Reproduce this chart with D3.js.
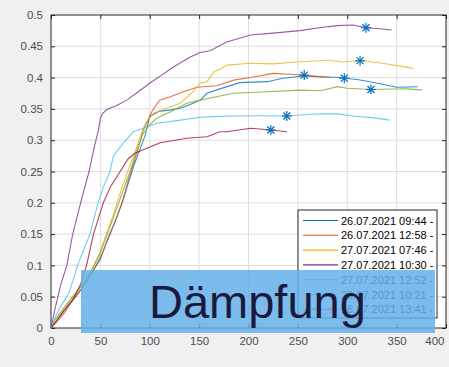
<!DOCTYPE html>
<html>
<head>
<meta charset="utf-8">
<script src="https://cdn.jsdelivr.net/npm/d3@7"></script>
<style>
  body { margin: 0; background: #f0f0f0; }
  svg { display: block; font-family: "Liberation Sans", Arial, sans-serif; }
</style>
</head>
<body>
<div id="chart"></div>
<script>
// legend labels
const labels = [
  "26.07.2021 09:44 -",
  "26.07.2021 12:58 -",
  "27.07.2021 07:46 -",
  "27.07.2021 10:30 -",
  "27.07.2021 12:52 -",
  "28.07.2021 10:21 -",
  "28.07.2021 13:41 -"
];
const colors = ["#0072BD", "#D95319", "#EDB120", "#7E2F8E", "#77AC30", "#4DBEEE", "#A2142F"];

// series values
const blueX = [0, 5, 12, 20, 30, 42, 50, 58, 65, 72, 78, 84, 90, 95, 100, 109, 120, 131, 144, 151, 158, 171, 191, 219, 235, 256, 275, 290, 297, 310, 323, 337, 350, 362, 371];
const blueY = [0, 0.01, 0.025, 0.04, 0.06, 0.09, 0.11, 0.145, 0.17, 0.2, 0.23, 0.26, 0.285, 0.306, 0.338, 0.346, 0.348, 0.351, 0.359, 0.364, 0.375, 0.382, 0.392, 0.3935, 0.399, 0.4026, 0.401, 0.4005, 0.399, 0.397, 0.3935, 0.389, 0.3845, 0.385, 0.3855];

const redX = [0, 6, 14, 22, 32, 44, 52, 60, 66, 72, 78, 84, 89, 93.5, 102, 110, 121, 134, 148, 168, 185, 205, 225, 245, 256, 270, 283];
const redY = [0, 0.01, 0.025, 0.045, 0.065, 0.095, 0.12, 0.15, 0.175, 0.2, 0.235, 0.265, 0.29, 0.316, 0.3455, 0.364, 0.3695, 0.3775, 0.3845, 0.387, 0.396, 0.401, 0.4068, 0.405, 0.404, 0.402, 0.4005];

const yellowX = [0, 5, 12, 20, 30, 40, 48, 56, 64, 72, 80, 87, 93, 97, 104, 117, 131, 144, 151, 158, 165, 171, 178, 202, 225, 252, 272, 279, 295, 313, 327, 340, 355, 367];
const yellowY = [0, 0.012, 0.03, 0.045, 0.065, 0.09, 0.115, 0.15, 0.185, 0.225, 0.26, 0.29, 0.318, 0.33, 0.343, 0.351, 0.359, 0.3775, 0.391, 0.3935, 0.4095, 0.413, 0.42, 0.423, 0.422, 0.4254, 0.427, 0.428, 0.425, 0.427, 0.425, 0.4217, 0.418, 0.4148];

const purpleX = [0, 4, 10, 16, 22, 30, 38.5, 44, 48, 50, 52, 56.4, 66, 76.7, 88, 100, 112, 124, 141, 151, 161, 178, 202, 225, 252, 273, 290, 306, 319, 333, 345];
const purpleY = [0, 0.03, 0.07, 0.1, 0.15, 0.2, 0.25, 0.29, 0.316, 0.335, 0.342, 0.349, 0.355, 0.364, 0.377, 0.391, 0.404, 0.417, 0.433, 0.44, 0.443, 0.457, 0.468, 0.471, 0.475, 0.48, 0.483, 0.484, 0.4797, 0.478, 0.476];

const greenX = [0, 5, 12, 22, 32, 42, 50, 57, 64, 72, 80, 87, 93, 100, 107, 121, 137.5, 151, 171, 185, 219, 252, 273, 290, 300, 324, 347, 362, 376];
const greenY = [0, 0.015, 0.03, 0.05, 0.07, 0.095, 0.12, 0.15, 0.18, 0.215, 0.25, 0.285, 0.31, 0.325, 0.335, 0.3455, 0.359, 0.364, 0.3706, 0.375, 0.3775, 0.38, 0.379, 0.3855, 0.383, 0.381, 0.3818, 0.382, 0.38];

const lightX = [0, 5, 10, 18, 27, 33, 39.5, 47.7, 53, 59.8, 63, 68, 73, 83.4, 93.5, 107, 131, 151, 164.5, 185, 210, 239, 260, 273, 290, 306, 325, 343];
const lightY = [0, 0.02, 0.035, 0.055, 0.1, 0.125, 0.15, 0.2, 0.225, 0.25, 0.274, 0.285, 0.295, 0.3136, 0.319, 0.327, 0.332, 0.3366, 0.3376, 0.3387, 0.339, 0.3387, 0.341, 0.342, 0.342, 0.3387, 0.336, 0.332];

const darkX = [0, 6, 14, 22, 30, 36, 43, 48, 53, 60, 70, 78, 85, 97, 110.5, 137.5, 158, 171, 178, 202, 223, 239];
const darkY = [0, 0.012, 0.03, 0.045, 0.07, 0.1, 0.15, 0.175, 0.2, 0.225, 0.25, 0.27, 0.279, 0.287, 0.296, 0.303, 0.3056, 0.3136, 0.3136, 0.319, 0.3163, 0.3136];

// star markers
const peakX = [297, 256.4, 313, 319, 324, 238.8, 222.6];
const peakY = [0.399, 0.404, 0.427, 0.4797, 0.381, 0.3387, 0.3163];

const xTicks = [0, 50, 100, 150, 200, 250, 300, 350, 400];
const yTicks = [0, 0.05, 0.1, 0.15, 0.2, 0.25, 0.3, 0.35, 0.4, 0.45, 0.5];

const seriesX = [blueX, redX, yellowX, purpleX, greenX, lightX, darkX];
const seriesY = [blueY, redY, yellowY, purpleY, greenY, lightY, darkY];

const W = 449, H = 367;
const margin = {top: 15, right: 3, bottom: 39, left: 51};
const width = W - margin.left - margin.right;
const height = H - margin.top - margin.bottom;

const svg = d3.select("#chart").append("svg")
  .attr("width", W)
  .attr("height", H);

const g = svg.append("g")
  .attr("transform", "translate(" + margin.left + "," + margin.top + ")");

// SCALES
const x = d3.scaleLinear().domain([0, 400]).range([0, width]);
const y = d3.scaleLinear().domain([0, 0.5]).range([height, 0]);

// plot background
g.append("rect")
  .attr("width", width)
  .attr("height", height)
  .attr("fill", "#fff");

// GRID
g.append("g")
  .selectAll("line")
  .data(xTicks.slice(1, -1))
  .enter().append("line")
  .attr("x1", d => x(d)).attr("x2", d => x(d))
  .attr("y1", 0).attr("y2", height)
  .attr("stroke", "#dedede");
g.append("g")
  .selectAll("line")
  .data(yTicks.slice(1, -1))
  .enter().append("line")
  .attr("y1", d => y(d)).attr("y2", d => y(d))
  .attr("x1", 0).attr("x2", width)
  .attr("stroke", "#dedede");

// AXES (ticks inside, box on)
const axisColor = "#262626";
function styleAxis(sel) {
  sel.select(".domain").remove();
  sel.selectAll(".tick line").attr("stroke", axisColor);
  sel.selectAll(".tick text").attr("fill", "#4d4d4d").style("font-size", "11.5px");
}
const fmt = d => String(d);
const xAxisG = g.append("g")
  .attr("transform", "translate(0," + height + ")")
  .call(d3.axisBottom(x).tickValues(xTicks).tickFormat(fmt).tickSizeInner(-4).tickSizeOuter(0).tickPadding(9))
  .call(styleAxis);
// last label sits against the window edge
xAxisG.selectAll(".tick text").filter(d => d === 400)
  .attr("text-anchor", "end").attr("dx", "-2");
g.append("g")
  .call(d3.axisLeft(y).tickValues(yTicks).tickFormat(fmt).tickSizeInner(-4).tickSizeOuter(0).tickPadding(8))
  .call(styleAxis);
g.append("g")
  .call(d3.axisTop(x).tickValues(xTicks).tickSizeInner(-4).tickSizeOuter(0).tickFormat(""))
  .call(styleAxis);
g.append("g")
  .attr("transform", "translate(" + width + ",0)")
  .call(d3.axisRight(y).tickValues(yTicks).tickSizeInner(-4).tickSizeOuter(0).tickFormat(""))
  .call(styleAxis);

g.append("rect")
  .attr("width", width)
  .attr("height", height)
  .attr("fill", "none")
  .attr("stroke", axisColor)
  .attr("stroke-width", 1);

// LINES
const line = d3.line()
  .x(d => x(d[0]))
  .y(d => y(d[1]));

seriesX.forEach((xs, i) => {
  const pts = xs.map((v, j) => [v, seriesY[i][j]]);
  g.append("path")
    .datum(pts)
    .attr("fill", "none")
    .attr("stroke", colors[i])
    .attr("stroke-width", 1.1)
    .attr("stroke-opacity", 0.8)
    .attr("d", line);
});

// STAR MARKERS
peakX.forEach((px, i) => {
  const s = g.append("g")
    .attr("transform", "translate(" + x(px) + "," + y(peakY[i]) + ")");
  [[-5, 0, 5, 0], [0, -5, 0, 5], [-3.5, -3.5, 3.5, 3.5], [-3.5, 3.5, 3.5, -3.5]].forEach(c => {
    s.append("line")
      .attr("x1", c[0]).attr("y1", c[1]).attr("x2", c[2]).attr("y2", c[3])
      .attr("stroke", "#0072BD")
      .attr("stroke-width", 1.2);
  });
});

// LEGEND
const leg = svg.append("g").attr("transform", "translate(298,210)");
leg.append("rect")
  .attr("width", 139).attr("height", 108)
  .attr("fill", "#fff")
  .attr("stroke", axisColor)
  .attr("stroke-width", 1);
labels.forEach((t, i) => {
  const ly = 10.5 + i * 14.8;
  leg.append("line")
    .attr("x1", 5).attr("x2", 40)
    .attr("y1", ly).attr("y2", ly)
    .attr("stroke", colors[i]).attr("stroke-width", 1.1);
  leg.append("text")
    .attr("x", 43).attr("y", ly + 4)
    .attr("fill", "#000")
    .style("font-size", "11px")
    .text(t);
});

// OVERLAY LABEL
svg.append("rect")
  .attr("x", 81).attr("y", 270)
  .attr("width", 354).attr("height", 63)
  .attr("fill", "rgb(101,176,233)")
  .attr("fill-opacity", 0.85);
svg.append("text")
  .attr("x", 149).attr("y", 318)
  .attr("fill", "#1b1a3e")
  .style("font-size", "47px")
  .text("Dämpfung");
</script>
</body>
</html>
